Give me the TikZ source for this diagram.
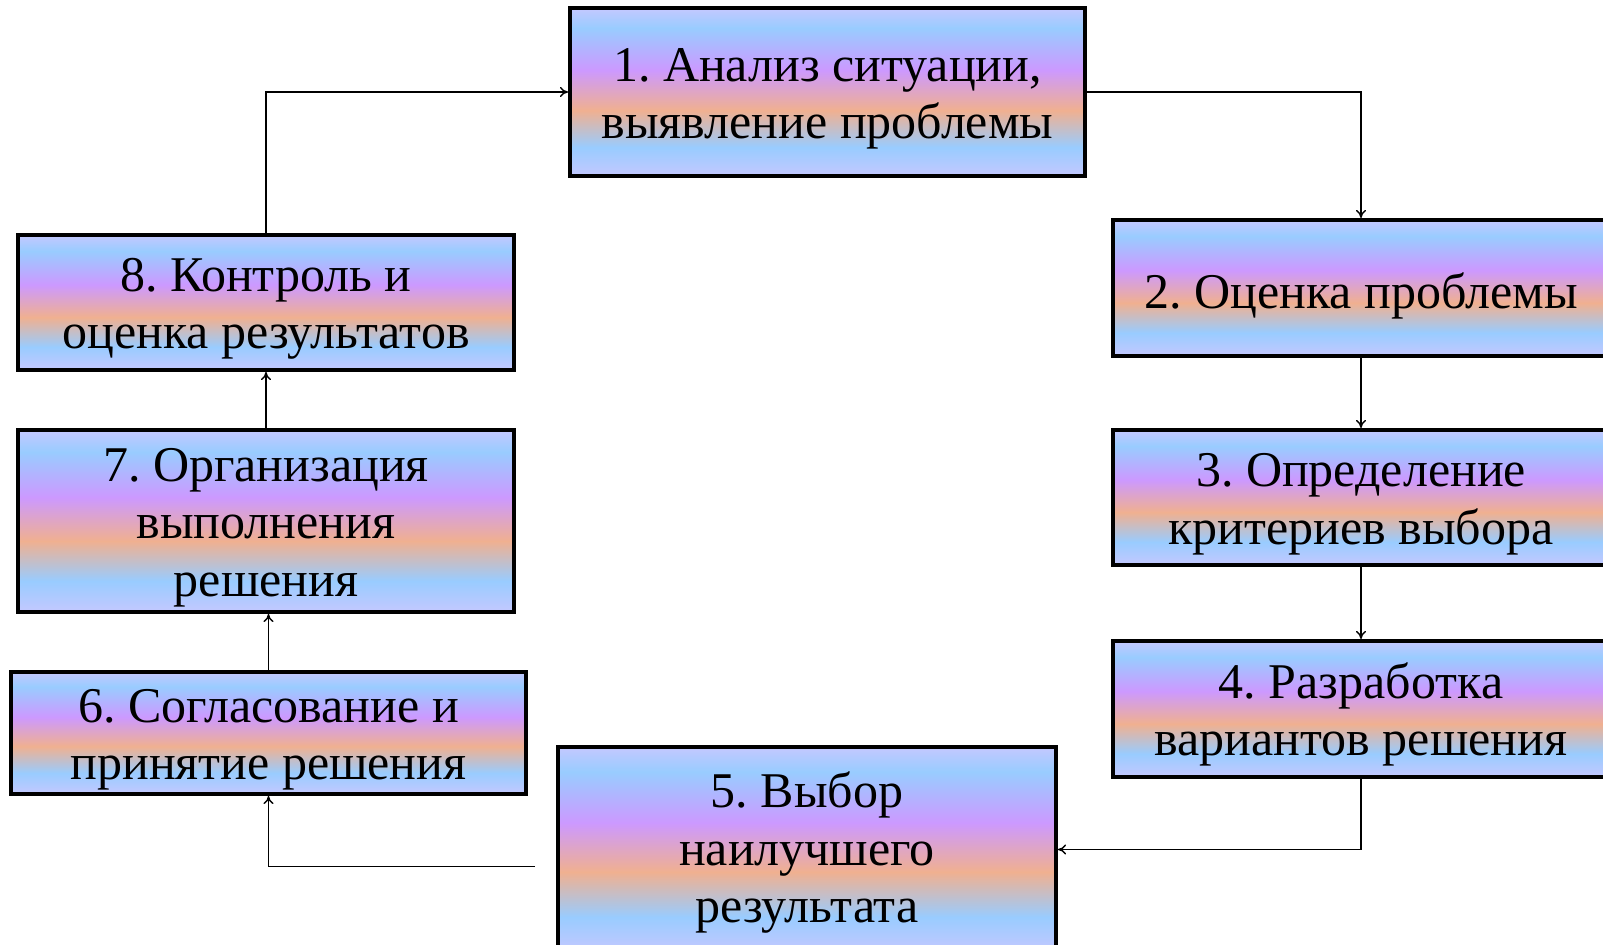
\documentclass[tikz,border=0pt]{standalone}
\usepackage{fontspec}
\setmainfont{Liberation Serif}
\usetikzlibrary{arrows.meta}
\frenchspacing

\definecolor{lav}{RGB}{196,200,255}
\definecolor{sky}{RGB}{153,204,255}
\definecolor{peach}{RGB}{240,176,144}
\definecolor{violet}{RGB}{204,153,255}

\pgfdeclareverticalshading{stagefill}{100bp}{color(0bp)=(lav); color(25bp)=(lav); color(33.5bp)=(sky); color(44.5bp)=(peach); color(56.5bp)=(violet); color(69bp)=(sky); color(75bp)=(lav); color(100bp)=(lav)}

% pushes the first line down a little
\newcommand{\topstrut}[1][23.3pt]{\rule{0pt}{#1}}

\tikzset{
	stage/.style={draw=black, line width=2pt, shading=stagefill, align=center, inner sep=0pt,
		font=\fontsize{25}{28.6}\selectfont},
	link/.style={black, line width=0.7pt, -{To[length=4pt,width=5pt]}}
}

\begin{document}
\begin{tikzpicture}[x=0.5pt,y=-0.5pt]

	\useasboundingbox[fill=white] (0,0) rectangle (1603,945);

	\node[stage, minimum width=257.5pt, minimum height=84pt] at (827.5,92) (1) {\topstrut 1. Анализ ситуации,\\выявление проблемы};
	\node[stage, minimum width=248pt, minimum height=68pt] at (1361,288) (2) {\topstrut[26pt]2. Оценка проблемы};
	\node[stage, minimum width=248pt, minimum height=67.5pt] at (1361,497.5) (3) {\topstrut 3. Определение\\критериев выбора};
	\node[stage, minimum width=248pt, minimum height=68pt] at (1361,709) (4) {\topstrut 4. Разработка\\вариантов решения};
	\node[stage, minimum width=249pt, minimum height=102.5pt] at (807,849.5) (5) {\topstrut[21pt]5. Выбор\\наилучшего\\результата};
	\node[stage, minimum width=257.5pt, minimum height=61pt] at (268.5,733) (6) {\topstrut 6. Согласование и\\принятие решения};
	\node[stage, minimum width=248pt, minimum height=91pt] at (266,521) (7) {\topstrut 7. Организация\\выполнения\\решения};
	\node[stage, minimum width=248pt, minimum height=67.5pt] at (266,302.5) (8) {\topstrut 8. Контроль и\\оценка результатов};

	\draw[link] (1.east) -| (2.north);
	\draw[link] (2.south) to (3.north);
	\draw[link] (3.south) to (4.north);
	\draw[link] (4.south) |- (5.east);
	\draw[link, shorten <=10.5pt] ([yshift=-8.5pt]5.west) -| (6.south);
	\draw[link] (6.north) to (6.north |- 7.south);
	\draw[link] (7.north) to (8.south);
	\draw[link] (8.north) |- (1.west);

\end{tikzpicture}
\end{document}
